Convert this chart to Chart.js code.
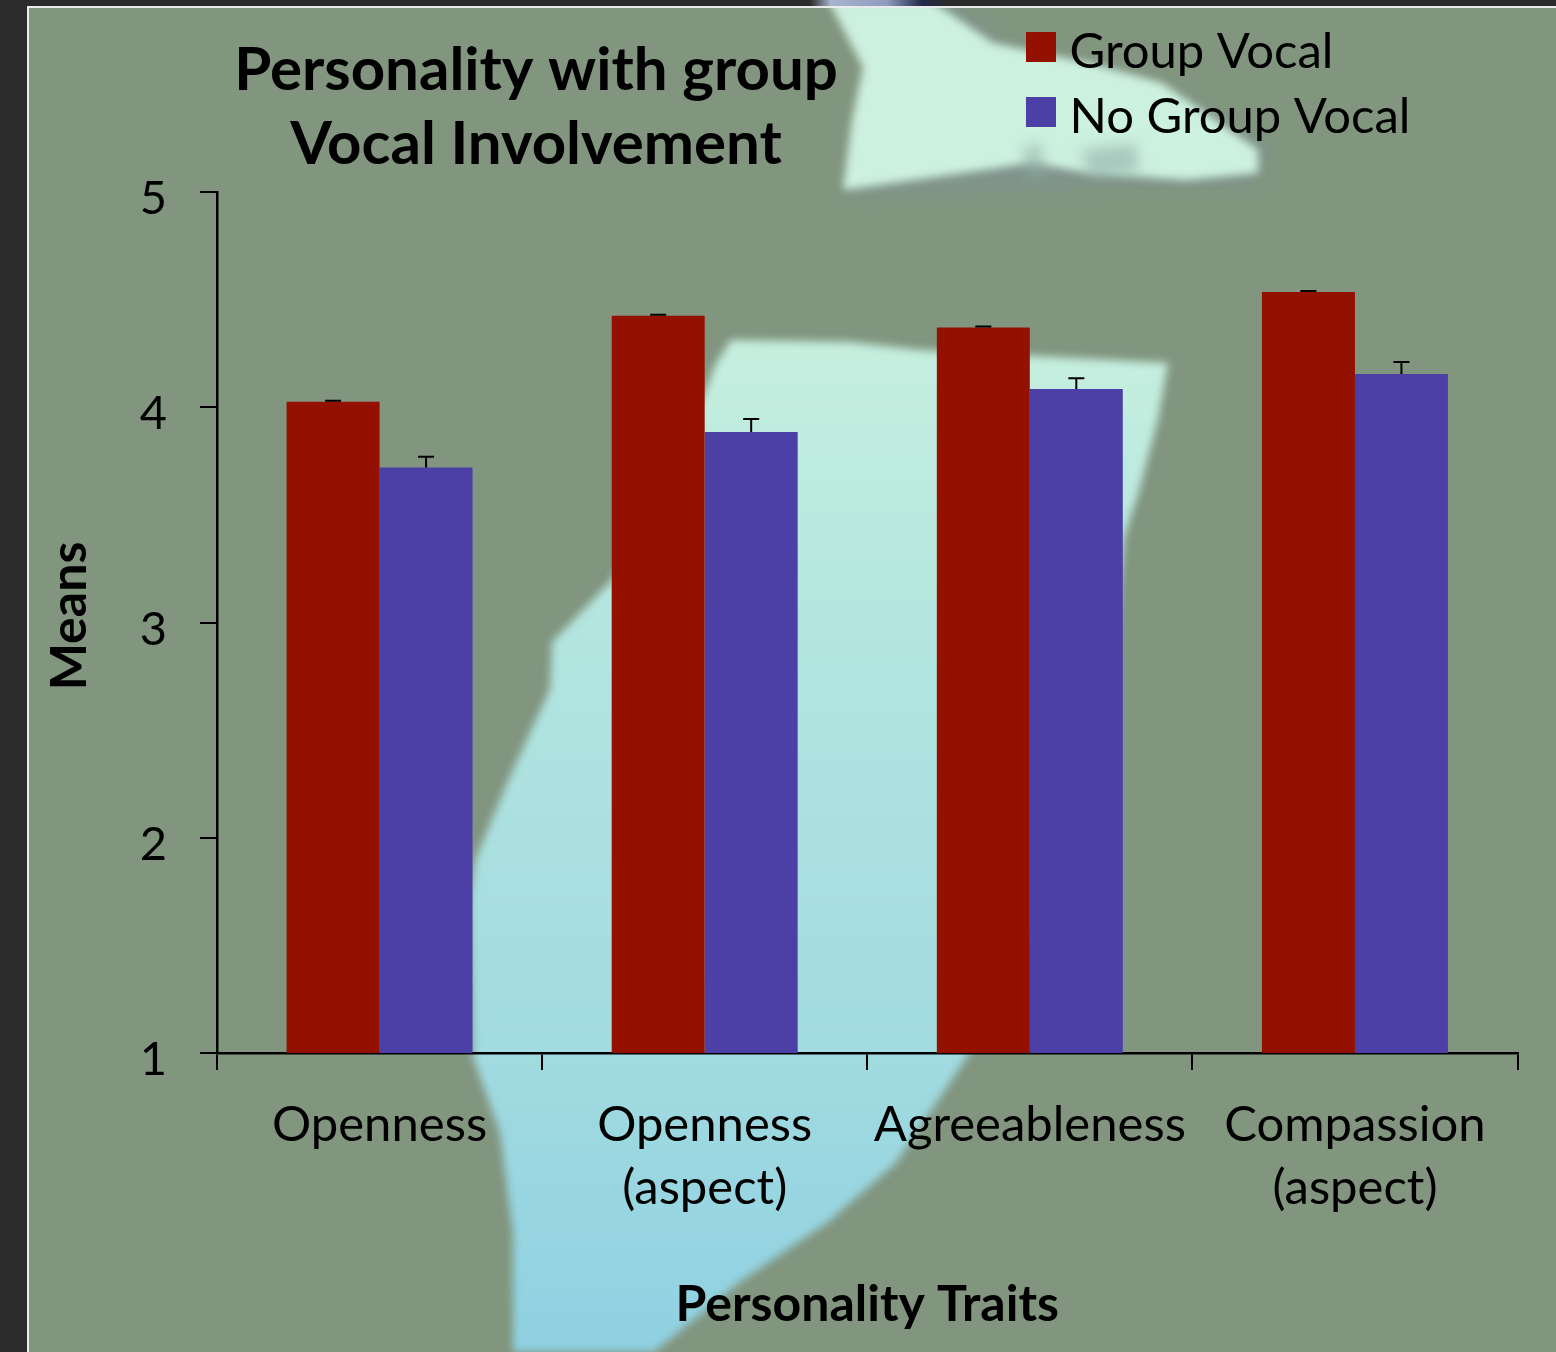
<!DOCTYPE html>
<html><head><meta charset="utf-8">
<style>
html,body{margin:0;padding:0;background:#2b2b2b;width:1556px;height:1352px;overflow:hidden}
#bg{position:absolute;left:0;top:0}
#wrap{position:absolute;left:0;top:0;width:1556px;height:1352px}
</style>
<script src="https://cdn.jsdelivr.net/npm/chart.js@4"></script>
</head><body>
<svg id="bg" width="1556" height="1352" xmlns="http://www.w3.org/2000/svg">
<defs>
<filter id="b" x="-10%" y="-10%" width="120%" height="120%"><feGaussianBlur stdDeviation="4.5"/></filter>
<filter id="b2" x="-20%" y="-20%" width="140%" height="140%"><feGaussianBlur stdDeviation="9"/></filter>
<filter id="b3" x="-40%" y="-40%" width="180%" height="180%"><feGaussianBlur stdDeviation="7"/></filter>
<linearGradient id="g" x1="0" y1="340" x2="0" y2="1352" gradientUnits="userSpaceOnUse">
<stop offset="0" stop-color="#c6efdf"/><stop offset="0.3" stop-color="#b2e5e0"/><stop offset="0.7" stop-color="#a2dbe0"/><stop offset="1" stop-color="#8fd1e2"/></linearGradient>
<linearGradient id="n" x1="810" y1="0" x2="950" y2="0" gradientUnits="userSpaceOnUse">
<stop offset="0" stop-color="#2b2b2b"/><stop offset="0.15" stop-color="#a9b4cf"/><stop offset="0.55" stop-color="#8f9bbd"/><stop offset="0.8" stop-color="#232a4a"/><stop offset="1" stop-color="#2b2b2b"/></linearGradient>
<clipPath id="c"><rect x="29" y="8" width="1527" height="1344"/></clipPath>
</defs>
<rect x="810" y="0" width="140" height="6" fill="url(#n)"/>
<path d="M27 1352 V6 H1556 V8 H29 V1352 Z" fill="#e9ecec"/>
<rect x="29" y="8" width="1527" height="1344" fill="#81957f"/>
<g clip-path="url(#c)">
<path filter="url(#b2)" fill="#7f93a0" opacity=".45" d="M945 0 L1010 50 L1100 75 L1180 100 L1270 150 L1250 185 L1100 185 L920 190 L850 195 L880 100 Z"/>
<path filter="url(#b)" fill="#cdf1df" d="M828 0 L930 0 L993 43 L1089 63 L1162 83 L1258 150 L1258 173 L1186 180 L1089 173 L1031 163 L935 177 L843 190 L852 120 L863 67 Z"/>
<path filter="url(#b3)" fill="#8fb0a8" opacity=".6" d="M1022 148 L1040 142 L1046 175 L1028 178 Z M1080 150 L1135 143 L1140 172 L1090 178 Z"/>
<path filter="url(#b)" fill="url(#g)" d="M731 340 L850 342 L920 350 L1168 363 L1158 419 L1139 491 L1124 537 L1100 800 L969 1054 L896 1163 L828 1222 L741 1281 L654 1352 L513 1352 L513 1233 L500 1133 L473 1057 L470 900 L475 860 L508 781 L550 689 L552 642 L612 580 L705 392 L715 365 Z"/>
</g>
</svg>
<div id="wrap"><canvas id="chart" width="1556" height="1352"></canvas></div>
<script>
const categories = [['Openness'], ['Openness', '(aspect)'], ['Agreeableness'], ['Compassion', '(aspect)']];
const seriesNames = ['Group Vocal', 'No Group Vocal'];
const groupVocal = [4.025, 4.425, 4.37, 4.535];
const noGroupVocal = [3.72, 3.885, 4.085, 4.155];
const groupVocalErrorTop = [4.03, 4.43, 4.375, 4.54];
const noGroupVocalErrorTop = [3.77, 3.945, 4.135, 4.21];
const yTicks = [1, 2, 3, 4, 5];
const titleLines = ['Personality with group', 'Vocal Involvement'];
const xTitle = 'Personality Traits';
const yTitle = 'Means';
const FONT = 'Lato, Carlito, Calibri, sans-serif';
const barColors = ['#941100', '#4c40a6'];

function swatch(color) {
  const c = document.createElement('canvas');
  c.width = 30; c.height = 40;
  const g = c.getContext('2d');
  g.fillStyle = color;
  g.fillRect(0, 0, 30, 30);
  return c;
}

const errorBars = {
  id: 'errorBars',
  afterDatasetsDraw(chart) {
    const ctx = chart.ctx, y = chart.scales.y;
    [groupVocalErrorTop, noGroupVocalErrorTop].forEach((tops, d) => {
      chart.getDatasetMeta(d).data.forEach((bar, i) => {
        const top = y.getPixelForValue(tops[i]);
        ctx.save();
        ctx.strokeStyle = '#000';
        ctx.lineWidth = 2;
        ctx.beginPath();
        ctx.moveTo(bar.x - 8, top); ctx.lineTo(bar.x + 8, top);
        ctx.moveTo(bar.x, top); ctx.lineTo(bar.x, bar.y);
        ctx.stroke();
        ctx.restore();
      });
    });
  }
};
const placeBoxes = {
  id: 'placeBoxes',
  afterLayout(chart) {
    chart.titleBlock.left = 0; chart.titleBlock.right = 1072;
    const l = chart.legend;
    const w = l.right - l.left, h = l.bottom - l.top;
    l.left = 1021; l.top = 11.5; l.right = l.left + w; l.bottom = l.top + h;
    const ys = chart.scales.y;
    if (!ys._titleShifted) {
      ys._titleShifted = true;
      const orig = ys.drawTitle;
      ys.drawTitle = function () {
        const t = this.top, b = this.bottom;
        this.top = t - 13;
        orig.call(this);
        this.top = t; this.bottom = b;
      };
    }
  }
};

new Chart(document.getElementById('chart'), {
  type: 'bar',
  data: {
    labels: categories,
    datasets: [
      {label: seriesNames[0], data: groupVocal, backgroundColor: barColors[0]},
      {label: seriesNames[1], data: noGroupVocal, backgroundColor: barColors[1]}
    ]
  },
  plugins: [errorBars, placeBoxes],
  options: {
    responsive: false,
    animation: false,
    devicePixelRatio: 1,
    layout: {padding: {left: 0, right: 38.5, top: 0, bottom: 0}},
    datasets: {bar: {categoryPercentage: 0.572, barPercentage: 1}},
    plugins: {
      tooltip: {enabled: false},
      title: {
        display: true, text: titleLines, color: '#000',
        font: {family: FONT, size: 60, weight: 'bold', lineHeight: 74 / 60},
        padding: {top: 34, bottom: 10}
      },
      legend: {
        position: 'chartArea', align: 'start',
        labels: {
          color: '#000', font: {family: FONT, size: 49},
          usePointStyle: true, boxWidth: 8, padding: 16,
          generateLabels: c => c.data.datasets.map((d, i) => ({
            text: d.label, pointStyle: swatch(d.backgroundColor), lineWidth: 0,
            datasetIndex: i, hidden: false
          }))
        }
      }
    },
    scales: {
      x: {
        offset: true,
        afterFit: s => { s.height = 299; },
        grid: {offset: true, drawOnChartArea: false, drawTicks: true, tickLength: 17, color: '#000', lineWidth: 2},
        border: {color: '#000', width: 2.5},
        ticks: {color: '#000', font: {family: FONT, size: 49, lineHeight: 63 / 49}, padding: 24, maxRotation: 0, autoSkip: false},
        title: {display: true, text: xTitle, color: '#000', font: {family: FONT, size: 50, weight: 'bold'}, padding: {top: 30, bottom: 17}}
      },
      y: {
        min: yTicks[0], max: yTicks[yTicks.length - 1],
        afterFit: s => { s.width = 217; },
        afterBuildTicks: s => { s.ticks = yTicks.map(v => ({value: v})); },
        grid: {drawOnChartArea: false, drawTicks: true, tickLength: 17, color: '#000', lineWidth: 2},
        border: {color: '#000', width: 2.5},
        ticks: {color: '#000', font: {family: FONT, size: 47}, padding: 33, labelOffset: 7},
        title: {display: true, text: yTitle, color: '#000', font: {family: FONT, size: 50, weight: 'bold'}, padding: {top: 40, bottom: 0}}
      }
    }
  }
});
</script>
</body></html>
